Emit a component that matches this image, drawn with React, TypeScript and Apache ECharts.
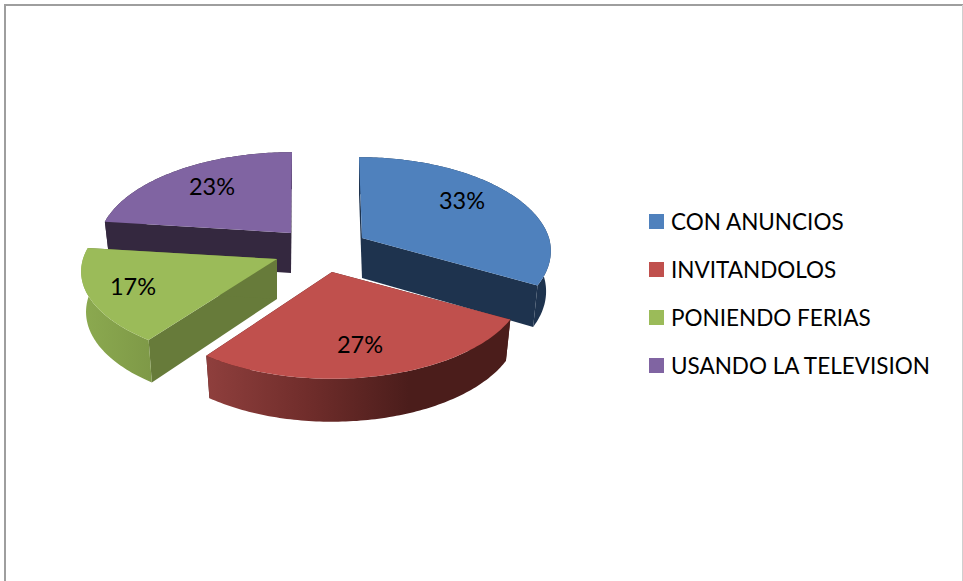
import React, { useEffect, useRef } from "react";
import * as echarts from "echarts";

const categories = ["CON ANUNCIOS", "INVITANDOLOS", "PONIENDO FERIAS", "USANDO LA TELEVISION"];
const values = [33, 27, 17, 23];

// Drawing layout, per slice
const topColors = ["#4F81BD", "#C0504D", "#9BBB59", "#8064A2"];
const cutColors = ["#1E334E", "#4B1D1B", "#677B3A", "#34283F"];
const sideStops = [
  ["#1E334E", "#1E334E"],
  ["#8F3F3D", "#702D2B", "#4B1D1B", "#4B1D1B"],
  ["#8CAA50", "#7E9947"],
  ["#34283F", "#34283F"],
];
const apexX = [362, 332, 277, 291];
const apexY = [238, 272, 259, 233];
const radiusX = [187, 190, 194, 191];
const radiusY = [92, 92, 89, 92];
const backSkew = [-3, 0, 0, 1];
const labelDX = [100, 28, -144, -79];
const labelDY = [-38, 72, 27, -47];
const layerZ = [2, 3, 4, 1];

const K = 0.138;

function App() {
  const ref = useRef<HTMLDivElement>(null);
  useEffect(() => {
    const chart = echarts.init(ref.current!, undefined, { renderer: "svg" });
    const total = values.reduce((a, b) => a + b, 0);

    const renderSlice = (params: any, api: any) => {
      const i = params.seriesIndex;
      const value = api.value(0);
      const before = values.slice(0, i).reduce((a, b) => a + b, 0);
      const a0 = (before / total) * 360;
      const a1 = a0 + (value / total) * 360;
      const ax = apexX[i];
      const ay = apexY[i];
      const rx = radiusX[i];
      const ry = radiusY[i];

      const rim = (deg: number, lower: boolean) => {
        const t = (deg * Math.PI) / 180;
        const u = Math.sin(t);
        const v = -Math.cos(t);
        const s = 1 / (1 - K * v);
        const dx = rx * u * s * (lower ? 0.975 : 1) + backSkew[i] * Math.max(-v, 0);
        const dy = ry * v * s + (lower ? 40 + 3 * v : 0);
        return [ax + dx, ay + dy];
      };
      const arc = (from: number, to: number, lower: boolean) => {
        const pts: number[][] = [];
        const n = Math.max(2, Math.ceil(Math.abs(to - from)));
        for (let k = 0; k <= n; k++) pts.push(rim(from + ((to - from) * k) / n, lower));
        return pts;
      };
      const cut = (deg: number) => [[ax, ay], rim(deg, false), rim(deg, true), [ax, ay + 40]];
      const stops = sideStops[i];
      const sideFill = new echarts.graphic.LinearGradient(
        0, 0, 1, 0,
        stops.map((color, k) => ({ offset: k / (stops.length - 1), color }))
      );
      return {
        type: "group",
        children: [
          { type: "polygon", shape: { points: cut(a0) }, style: { fill: cutColors[i] } },
          { type: "polygon", shape: { points: cut(a1) }, style: { fill: cutColors[i] } },
          {
            type: "polygon",
            shape: { points: [...arc(a0, a1, false), ...arc(a1, a0, true)] },
            style: { fill: sideFill },
          },
          {
            type: "polygon",
            shape: { points: [[ax, ay], ...arc(a0, a1, false)] },
            style: { fill: topColors[i] },
          },
          {
            type: "text",
            x: ax + labelDX[i],
            y: ay + labelDY[i],
            style: {
              text: `${value}%`,
              fill: "#000",
              font: '23.5px Lato',
              textAlign: "center",
              textVerticalAlign: "middle",
            },
          },
        ],
      };
    };

    chart.setOption({
      animation: false,
      backgroundColor: "#fff",
      legend: {
        orient: "vertical",
        left: 649,
        top: 210,
        padding: 0,
        icon: "rect",
        itemWidth: 15,
        itemHeight: 15,
        itemGap: 25,
        selectedMode: false,
        data: categories,
        textStyle: { fontFamily: "Lato", fontSize: 22.5, color: "#000", padding: [0, 0, 0, 2] },
      },
      graphic: [
        { type: "line", shape: { x1: 4, y1: 5, x2: 963, y2: 5 }, style: { stroke: "#9E9E9E", lineWidth: 2 } },
        { type: "line", shape: { x1: 5, y1: 5, x2: 5, y2: 581 }, style: { stroke: "#9E9E9E", lineWidth: 2 } },
        { type: "line", shape: { x1: 962.5, y1: 5, x2: 962.5, y2: 581 }, style: { stroke: "#CFCFCF", lineWidth: 1 } },
      ],
      series: categories.map((name, i) => ({
        type: "custom",
        name,
        coordinateSystem: "none",
        silent: true,
        z: layerZ[i],
        itemStyle: { color: topColors[i] },
        data: [values[i]],
        renderItem: renderSlice,
      })),
    });
    return () => chart.dispose();
  }, []);
  return <div ref={ref} style={{ position: "absolute", left: 0, top: 0, width: 963, height: 581 }} />;
}

export default App;
